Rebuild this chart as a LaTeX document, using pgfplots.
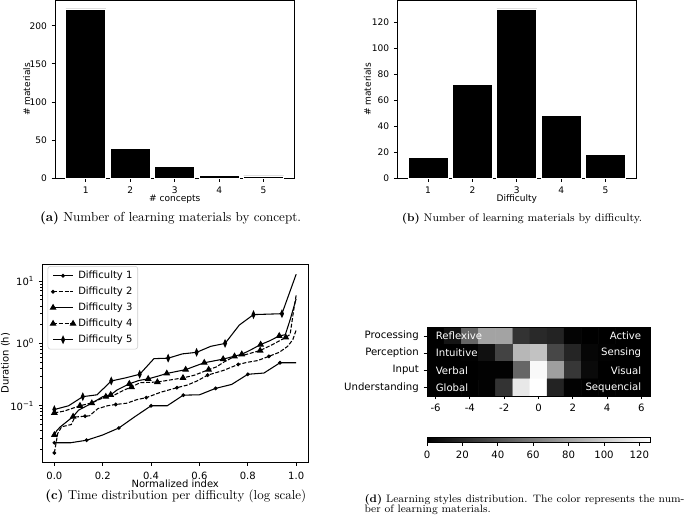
\documentclass[border=0pt]{standalone}
\usepackage{fontspec}
\usepackage{pgfplots}
\pgfplotsset{compat=1.18}
\usetikzlibrary{calc}
\newfontfamily\dv{DejaVu Sans}
\newcommand\fa{\dv\fontsize{6.8}{8}\selectfont}
\newcommand\fc{\dv\fontsize{7.5}{9}\selectfont}
\newcommand\fd{\dv\fontsize{7.6}{9}\selectfont}
\pgfplotsset{
  colormap={mplgray}{gray(0cm)=(0); gray(1cm)=(1)},
  mpl/.style={
    scale only axis,
    axis line style={line width=0.6pt},
    tick align=outside,
    xtick pos=left, ytick pos=left,
    major tick length=2.6pt,
    tick style={line width=0.6pt, black},
  }
}
\begin{document}
\begin{tikzpicture}
\path[use as bounding box] (0,0) rectangle (513.75pt,-389.25pt);
% (a)
\begin{axis}[mpl, at={(41.25pt,-133.7pt)}, anchor=south west,
  width=179.6pt, height=133.35pt,
  xmin=0.305, xmax=5.695, ymin=0, ymax=233.1,
  xtick={1,2,3,4,5}, xticklabels={1,2,3,4,5},
  ytick={0,50,100,150,200}, yticklabels={0,50,100,150,200},
  ticklabel style={font=\fa}, label style={font=\fa},
  xticklabel style={anchor=base, yshift=-8.8pt},
  xlabel style={at={(axis description cs:0.5,0)}, anchor=base, yshift=-17.5pt},
  ylabel style={at={(axis description cs:-0.118,0.5)}, anchor=center},
  xlabel={\# concepts}, ylabel={\# materials}]
\addplot[ybar, bar width=0.9, bar shift=0pt, fill=black, draw=white, line width=0.6pt]
  coordinates {(1,222) (2,39) (3,16) (4,4) (5,3)};
\end{axis}
% (b)
\begin{axis}[mpl, at={(297.98pt,-133.7pt)}, anchor=south west,
  width=179.25pt, height=133.35pt,
  xmin=0.305, xmax=5.695, ymin=0, ymax=136.5,
  xtick={1,2,3,4,5}, xticklabels={1,2,3,4,5},
  ytick={0,20,40,60,80,100,120}, yticklabels={0,20,40,60,80,100,120},
  ticklabel style={font=\fa}, label style={font=\fa},
  xticklabel style={anchor=base, yshift=-8.8pt},
  xlabel style={at={(axis description cs:0.5,0)}, anchor=base, yshift=-17.5pt},
  ylabel style={at={(axis description cs:-0.1247,0.5)}, anchor=center},
  xlabel={Difficulty}, ylabel={\# materials}]
\addplot[ybar, bar width=0.9, bar shift=0pt, fill=black, draw=white, line width=0.6pt]
  coordinates {(1,16) (2,72) (3,130) (4,48) (5,18)};
\end{axis}
% (c)
\begin{axis}[mpl, ymode=log, at={(31.7pt,-346.7pt)}, anchor=south west,
  width=199.5pt, height=148.7pt,
  xmin=-0.05, xmax=1.05, ymin=0.0124, ymax=18.8,
  xtick={0,0.2,0.4,0.6,0.8,1}, xticklabels={0.0,0.2,0.4,0.6,0.8,1.0},
  ytick={0.1,1,10}, yticklabels={10\textsuperscript{−1},10\textsuperscript{0},10\textsuperscript{1}},
  minor ytick={0.02,0.03,0.04,0.05,0.06,0.07,0.08,0.09,0.2,0.3,0.4,0.5,0.6,0.7,0.8,0.9,2,3,4,5,6,7,8,9},
  minor tick length=1.5pt,
  ticklabel style={font=\fc}, label style={font=\fc},
  xticklabel style={anchor=base, yshift=-10.6pt},
  xlabel style={at={(axis description cs:0.5,0)}, anchor=base, yshift=-19.2pt},
  ylabel style={at={(axis description cs:-0.138,0.5)}, anchor=center},
  xlabel={Normalized index}, ylabel={Duration (h)},
  legend style={at={(0.02,0.99)}, anchor=north west, font=\fc, draw=black!20,
    rounded corners=2pt, inner xsep=2pt, inner ysep=1.5pt, row sep=0.8pt, fill=white},
  legend cell align=left,
  legend image code/.code={\draw[mark repeat=2,mark phase=2,#1] plot coordinates {(0pt,0pt) (7.5pt,0pt) (15pt,0pt)};},
  every axis plot/.append style={black, line width=0.8pt}]
\addplot[mark=*, mark size=1pt, mark repeat=2] coordinates {
(0,0.0255) (0.0667,0.0255) (0.1333,0.028) (0.2,0.034) (0.2667,0.044) (0.3333,0.067)
(0.4,0.1) (0.4667,0.1) (0.5333,0.148) (0.6,0.15) (0.6667,0.19) (0.7333,0.22)
(0.8,0.32) (0.8667,0.335) (0.9333,0.49) (1.0,0.49)};
\addlegendentry{Difficulty 1}
\addplot[dash pattern=on 3pt off 1.3pt, mark=*, mark size=1pt, mark options={solid},
  mark indices={1,6,10,13,15,18,20,23}] coordinates {
(0,0.0175) (0.014,0.036) (0.03,0.046) (0.07,0.05) (0.085,0.066) (0.127,0.068)
(0.145,0.069) (0.18,0.09) (0.22,0.1) (0.254,0.105) (0.30,0.11) (0.34,0.125)
(0.38,0.135) (0.44,0.165) (0.507,0.195) (0.55,0.215) (0.59,0.25) (0.634,0.31)
(0.70,0.37) (0.76,0.46) (0.80,0.5) (0.84,0.53) (0.887,0.62) (0.93,0.72)
(0.965,0.9) (0.986,1.15) (1.0,1.64)};
\addlegendentry{Difficulty 2}
\addplot[mark=triangle*, mark size=2.2pt,
  mark indices={1,5,7,9,11,13,15,16,18,19,20,22,24}] coordinates {
(0,0.034) (0.01,0.04) (0.025,0.046) (0.05,0.055) (0.0775,0.067) (0.1,0.085)
(0.155,0.11) (0.2,0.14) (0.233,0.15) (0.26,0.18) (0.31,0.225) (0.35,0.255)
(0.388,0.27) (0.43,0.3) (0.465,0.33) (0.543,0.38) (0.58,0.43) (0.62,0.49)
(0.698,0.56) (0.775,0.67) (0.81,0.78) (0.853,0.96) (0.89,1.1) (0.93,1.32)
(0.955,1.38) (0.975,2.4) (1.0,5.2)};
\addlegendentry{Difficulty 3}
\addplot[dash pattern=on 3pt off 1.3pt, mark=triangle*, mark size=2.2pt, mark options={solid},
  mark indices={1,3,5,8,10,12,14,17,19,21}] coordinates {
(0,0.077) (0.04,0.082) (0.106,0.1) (0.15,0.11) (0.213,0.14) (0.25,0.15)
(0.29,0.18) (0.319,0.2) (0.355,0.235) (0.426,0.24) (0.48,0.26) (0.532,0.28)
(0.58,0.31) (0.638,0.38) (0.67,0.42) (0.70,0.5) (0.745,0.62) (0.79,0.66)
(0.851,0.77) (0.90,0.95) (0.957,1.25) (0.975,1.4) (0.99,3.5) (1.0,6.0)};
\addlegendentry{Difficulty 4}
\addplot[mark=diamond*, mark size=2.4pt, mark options={xscale=0.6}, mark repeat=2] coordinates {
(0,0.087) (0.0588,0.1) (0.1176,0.14) (0.1765,0.15) (0.2353,0.25) (0.2941,0.28)
(0.3529,0.32) (0.4118,0.57) (0.4706,0.58) (0.5294,0.68) (0.5882,0.72) (0.6471,0.9)
(0.7059,1.0) (0.7647,1.97) (0.8235,2.9) (0.8824,2.95) (0.9412,3.0) (1.0,12.9)};
\addlegendentry{Difficulty 5}
\end{axis}
% (d)
\begin{axis}[mpl, at={(320.25pt,-297pt)}, anchor=south west,
  width=167.25pt, height=51.5pt,
  xmin=-6.5, xmax=6.5, ymin=-0.5, ymax=3.5, y dir=reverse,
  enlargelimits=false, axis on top,
  xtick={-6,-4,-2,0,2,4,6}, xticklabels={-6,-4,-2,0,2,4,6},
  ytick={0,1,2,3}, yticklabels={Processing,Perception,Input,Understanding},
  ticklabel style={font=\fd},
  xticklabel style={anchor=base, yshift=-9.2pt},
  colormap name=mplgray, point meta min=0, point meta max=126,
  colorbar horizontal,
  colorbar style={at={($(parent axis.south west)+(0,-22.5pt)$)}, anchor=north west,
    width=167.25pt, height=3.75pt, scale only axis,
    xtick={0,20,40,60,80,100,120}, xticklabels={0,20,40,60,80,100,120},
    xticklabel style={font=\fd, anchor=base, yshift=-9.75pt}, tick align=outside, major tick length=2.6pt,
    xtick pos=left, axis line style={line width=0.6pt}}]
\addplot[matrix plot*, mesh/cols=13, point meta=explicit] table[meta=c] {
x y c
-6 0 0
-5 0 10
-4 0 50
-3 0 80
-2 0 80
-1 0 25
0 0 20
1 0 17
2 0 2
3 0 0
4 0 0
5 0 0
6 0 0
-6 1 0
-5 1 0
-4 1 1
-3 1 8
-2 1 33
-1 1 90
0 1 95
1 1 35
2 1 18
3 1 3
4 1 1
5 1 0
6 1 0
-6 2 0
-5 2 0
-4 2 0
-3 2 1
-2 2 1
-1 2 50
0 2 122
1 2 78
2 2 27
3 2 5
4 2 0
5 2 0
6 2 0
-6 3 0
-5 3 0
-4 3 0
-3 3 1
-2 3 25
-1 3 114
0 3 126
1 3 17
2 3 1
3 3 0
4 3 0
5 3 0
6 3 0
};
\node[white, anchor=west, inner sep=0pt, font=\fd] at (axis cs:-6,0) {Reflexive};
\node[white, anchor=west, inner sep=0pt, font=\fd] at (axis cs:-6,1) {Intuitive};
\node[white, anchor=west, inner sep=0pt, font=\fd] at (axis cs:-6,2) {Verbal};
\node[white, anchor=west, inner sep=0pt, font=\fd] at (axis cs:-6,3) {Global};
\node[white, anchor=east, inner sep=0pt, font=\fd] at (axis cs:6,0) {Active};
\node[white, anchor=east, inner sep=0pt, font=\fd] at (axis cs:6,1) {Sensing};
\node[white, anchor=east, inner sep=0pt, font=\fd] at (axis cs:6,2) {Visual};
\node[white, anchor=east, inner sep=0pt, font=\fd] at (axis cs:6,3) {Sequencial};
\end{axis}
% captions
\node[anchor=base, inner sep=0pt, font=\fontsize{9.8}{11}\selectfont] at (127.9pt,-166.1pt) {\textbf{(a)} Number of learning materials by concept.};
\node[anchor=base, inner sep=0pt, font=\fontsize{8.3}{10}\selectfont] at (391.5pt,-166.1pt) {\textbf{(b)} Number of learning materials by difficulty.};
\node[anchor=base, inner sep=0pt, font=\fontsize{9.7}{11}\selectfont] at (131.85pt,-374.6pt) {\textbf{(c)} Time distribution per difficulty (log scale)};
\node[anchor=base west, inner sep=0pt, font=\fontsize{8.1}{10}\selectfont] at (273.2pt,-376.5pt) {\makebox[240pt][s]{\textbf{(d)} Learning styles distribution. The color represents the num-}};
\node[anchor=base west, inner sep=0pt, font=\fontsize{8.1}{10}\selectfont] at (273.2pt,-384.4pt) {ber of learning materials.};
\end{tikzpicture}
\end{document}
